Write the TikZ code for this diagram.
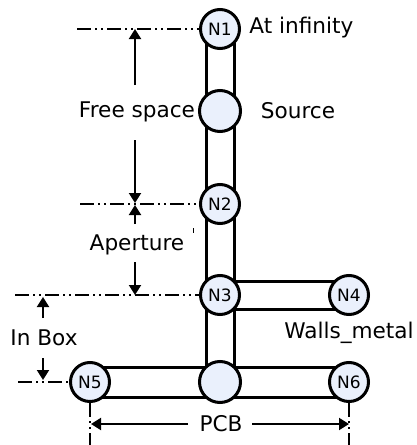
\documentclass[tikz,border=0pt]{standalone}
\usepackage{fontspec}
\setmainfont{DejaVu Sans}
\usetikzlibrary{arrows.meta}
\definecolor{nodefill}{RGB}{234,240,252}
\begin{document}
\begin{tikzpicture}[x=0.5pt,y=-0.5pt,
  nd/.style={circle,draw=black,line width=1.5pt,fill=nodefill,minimum size=19.5pt,inner sep=0pt,font=\fontsize{8.5}{9}\selectfont},
  bignd/.style={nd,minimum size=20.5pt},
  tube/.style={draw=black,line width=1.5pt,double=white,double distance=12.5pt},
  wtube/.style={draw=black,line width=1.5pt,double=white,double distance=13.5pt},
  dashdot/.style={line width=1.2pt,dash pattern=on 7pt off 2pt on 1pt off 2pt on 1pt off 2pt},
  dim/.style={line width=1pt,-{Triangle[length=5pt,width=6pt]}},
  lbl/.style={font=\fontsize{10.8}{12}\selectfont,inner sep=0pt}]
\useasboundingbox (0,0) rectangle (417,445);
% node positions
\coordinate (pN1) at (220,29);
\coordinate (pS) at (220,111);
\coordinate (pN2) at (220,204);
\coordinate (pN3) at (220,295);
\coordinate (pN4) at (349,295);
\coordinate (pN5) at (90,382);
\coordinate (pB) at (220,382);
\coordinate (pN6) at (349,382);
% tubes
\draw[tube] (pN1) -- (pB);
\draw[tube] (pN3) -- (pN4);
\draw[wtube] (pN5) -- (pN6);
% nodes
\node[nd] (N1) at (pN1) {N1};
\node[bignd] (S) at (pS) {};
\node[nd] (N2) at (pN2) {N2};
\node[nd] (N3) at (pN3) {N3};
\node[nd] (N4) at (pN4) {N4};
\node[nd] (N5) at (pN5) {N5};
\node[bignd] (B) at (pB) {};
\node[nd] (N6) at (pN6) {N6};
% labels
\node[lbl,anchor=west] (tinf) at (249,28) {At infinity};
\node[lbl] (tsrc) at (298,111) {Source};
\node[lbl] (tfree) at (137,112) {Free space};
\node[lbl] (tap) at (137,245) {Aperture};
\node[lbl] (tbox) at (44,338) {In Box};
\node[lbl] (twall) at (349,333) {Walls\_metal};
\node[lbl] (tpcb) at (221,424) {PCB};
% dash-dot reference lines
\coordinate (d1) at (77,29);
\coordinate (d2) at (80,204);
\coordinate (d3) at (15,295);
\coordinate (d4) at (18,382);
\coordinate (d5) at (90,445);
\coordinate (d6) at (349,445);
\draw[dashdot] (d1) -- (N1.west);
\draw[dashdot] (d2) -- (N2.west);
\draw[dashdot] (d3) -- (N3.west);
\draw[dashdot] (d4) -- (N5.west);
\draw[dashdot] (N5.south) -- (d5);
\draw[dashdot] (N6.south) -- (d6);
% dimension arrows
\coordinate (fa) at (135,85);
\coordinate (fb) at (135,29);
\coordinate (fc) at (135,140);
\coordinate (fd) at (135,203);
\coordinate (aa) at (135,224);
\coordinate (ab) at (135,205);
\coordinate (ac) at (135,262);
\coordinate (ad) at (135,295);
\coordinate (ba) at (43,318);
\coordinate (bb) at (43,297);
\coordinate (bc) at (43,358);
\coordinate (bd) at (43,380);
\coordinate (pa) at (188,424);
\coordinate (pb) at (91,424);
\coordinate (pc) at (252,424);
\coordinate (pd) at (349,424);
\draw[dim] (fa) -- (fb);
\draw[dim] (fc) -- (fd);
\draw[dim] (aa) -- (ab);
\draw[dim] (ac) -- (ad);
\draw[dim] (ba) -- (bb);
\draw[dim] (bc) -- (bd);
\draw[dim] (pa) -- (pb);
\draw[dim] (pc) -- (pd);
% small tick
\coordinate (ka) at (193,228);
\coordinate (kb) at (193,233);
\draw[line width=0.5pt] (ka) -- (kb);
\end{tikzpicture}
\end{document}
